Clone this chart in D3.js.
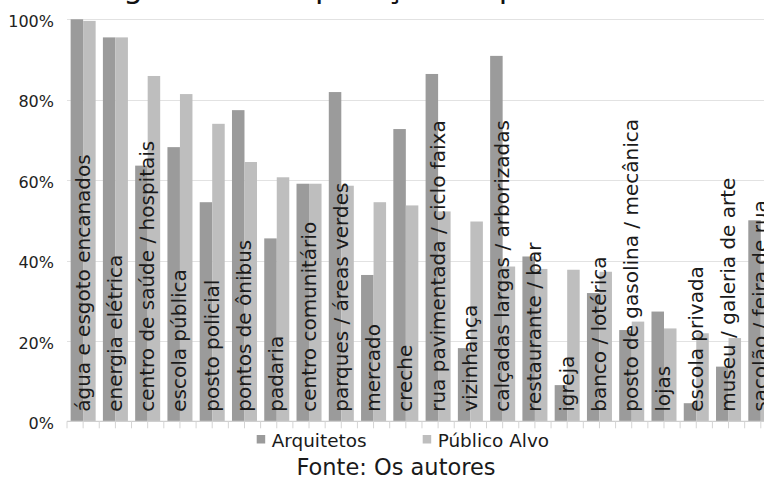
<!DOCTYPE html>
<html>
<head>
<meta charset="utf-8">
<script src="https://cdn.jsdelivr.net/npm/d3@7"></script>
<style>
  html, body { margin: 0; padding: 0; background: #ffffff; }
  svg { display: block; font-family: "DejaVu Sans", sans-serif; }
</style>
</head>
<body>
<svg id="chart" width="764" height="479"></svg>
<script>
// Categories (urban amenities) and the share of respondents rating each as important
const categories = [
  "água e esgoto encanados",
  "energia elétrica",
  "centro de saúde / hospitais",
  "escola pública",
  "posto policial",
  "pontos de ônibus",
  "padaria",
  "centro comunitário",
  "parques / áreas verdes",
  "mercado",
  "creche",
  "rua pavimentada / ciclo faixa",
  "vizinhança",
  "calçadas largas / arborizadas",
  "restaurante / bar",
  "igreja",
  "banco / lotérica",
  "posto de gasolina / mecânica",
  "lojas",
  "escola privada",
  "museu / galeria de arte",
  "sacolão / feira de rua"
];
const seriesNames = ["Arquitetos", "Público Alvo"];
const arquitetos = [100, 95.5, 63.6, 68.2, 54.5, 77.4, 45.5, 59.1, 81.9, 36.4, 72.7,
                    86.4, 18.2, 90.9, 41.0, 9.0, 31.9, 22.7, 27.3, 4.5, 13.6, 50.0];
const publicoAlvo = [99.6, 95.5, 85.9, 81.4, 74.0, 64.5, 60.7, 59.1, 58.6, 54.5, 53.7,
                     52.2, 49.7, 38.5, 37.9, 37.7, 37.2, 24.8, 23.1, 21.9, 20.7, 40.0];
const yTicks = [0, 20, 40, 60, 80, 100];
const titleText = "Figura 5: Comparação de prioridades";
const sourceText = "Fonte: Os autores";

const colors = { "Arquitetos": "#9b9b9b", "Público Alvo": "#bebebe" };

const svg = d3.select("#chart");
const W = 764;
const plot = { left: 67, top: 19.3, bottom: 421.3, step: 32.27 };

const x = d3.scaleBand()
  .domain(categories)
  .range([plot.left, plot.left + plot.step * categories.length])
  .paddingInner(0).paddingOuter(0);

const xSub = d3.scaleBand()
  .domain(seriesNames)
  .range([0, x.bandwidth()])
  .paddingInner(0).paddingOuter(0.29);

const y = d3.scaleLinear().domain([0, 100]).range([plot.bottom, plot.top]);

// Title (sits above the visible area)
svg.append("text")
  .attr("x", 99).attr("y", -2.5)
  .attr("font-size", 31).attr("fill", "#111")
  .text(titleText);

// Horizontal gridlines
svg.append("g").selectAll("line")
  .data(yTicks.filter(d => d > 0))
  .join("line")
  .attr("x1", plot.left).attr("x2", W)
  .attr("y1", d => Math.round(y(d)) + 0.5).attr("y2", d => Math.round(y(d)) + 0.5)
  .attr("stroke", "#e2e2e2").attr("stroke-width", 1.2);

// Y axis labels
const yAxis = d3.axisLeft(y).tickValues(yTicks).tickFormat(d => d + "%").tickSize(0).tickPadding(0);
const gy = svg.append("g").attr("transform", `translate(${plot.left - 13},2)`).call(yAxis);
gy.select(".domain").remove();
gy.selectAll("text").attr("font-size", 16).attr("fill", "#222").attr("font-family", "DejaVu Sans, sans-serif");

// Bars
const rows = categories.map((c, i) => ({ cat: c, values: [
  { key: "Arquitetos", v: arquitetos[i] },
  { key: "Público Alvo", v: publicoAlvo[i] }
]}));

const groups = svg.append("g").selectAll("g")
  .data(rows).join("g")
  .attr("transform", d => `translate(${x(d.cat)},0)`);

groups.selectAll("rect")
  .data(d => d.values).join("rect")
  .attr("x", d => xSub(d.key))
  .attr("width", xSub.bandwidth())
  .attr("y", d => y(d.v))
  .attr("height", d => y(0) - y(d.v))
  .attr("fill", d => colors[d.key]);

// X axis line with ticks at band edges and centres
const gx = svg.append("g");
gx.append("line")
  .attr("x1", plot.left).attr("x2", W)
  .attr("y1", plot.bottom).attr("y2", plot.bottom)
  .attr("stroke", "#cfcfcf").attr("stroke-width", 1.2);
const tickPos = [];
categories.forEach(c => { tickPos.push(x(c)); tickPos.push(x(c) + x.bandwidth() / 2); });
tickPos.push(x.range()[1]);
gx.selectAll("line.tick")
  .data(tickPos).join("line")
  .attr("class", "tick")
  .attr("x1", d => d).attr("x2", d => d)
  .attr("y1", plot.bottom).attr("y2", plot.bottom + 7)
  .attr("stroke", "#d4d4d4").attr("stroke-width", 1);

// Category labels, rotated, drawn over the bars
svg.append("g").selectAll("text")
  .data(categories).join("text")
  .attr("transform", d => `translate(${x(d) + x.bandwidth() / 2 + 6.5},${plot.bottom - 9.5}) rotate(-90)`)
  .attr("font-size", 20)
  .attr("fill", "#1a1a1a")
  .text(d => d);

// Legend
const legend = svg.append("g");
const legendX = [256.7, 422.7];
seriesNames.forEach((s, i) => {
  legend.append("rect")
    .attr("x", legendX[i]).attr("y", 435)
    .attr("width", 8.5).attr("height", 8.5)
    .attr("fill", colors[s]);
  legend.append("text")
    .attr("x", legendX[i] + 15).attr("y", 446.5)
    .attr("font-size", 18.4).attr("fill", "#1a1a1a")
    .text(s);
});

// Source line
svg.append("text")
  .attr("x", 396).attr("y", 475)
  .attr("text-anchor", "middle")
  .attr("font-size", 22.5).attr("fill", "#1a1a1a")
  .text(sourceText);
</script>
</body>
</html>
